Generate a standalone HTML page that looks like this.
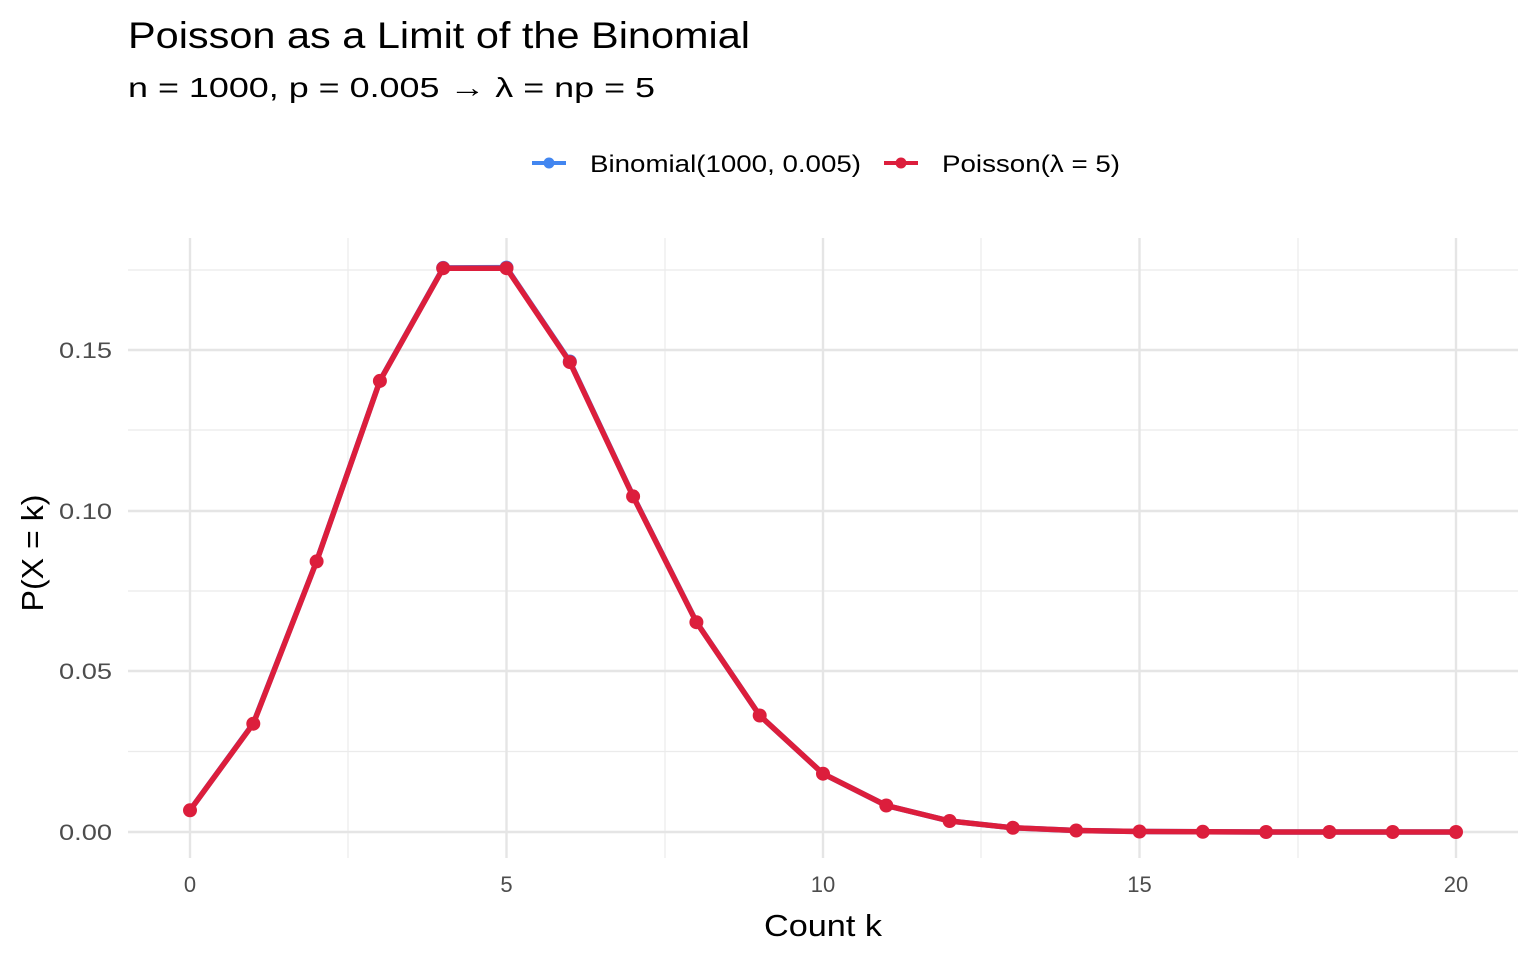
<!DOCTYPE html>
<html><head><meta charset="utf-8"><style>
body{margin:0;background:#fff;}
svg{display:block;font-family:"Liberation Sans",sans-serif;}
</style></head><body>
<svg width="1536" height="960" viewBox="0 0 1536 960" xmlns="http://www.w3.org/2000/svg">
<rect width="1536" height="960" fill="#fff"/>
<text x="128" y="48" font-size="37" fill="#000" textLength="622" lengthAdjust="spacingAndGlyphs">Poisson as a Limit of the Binomial</text>
<text x="128" y="97" font-size="28" fill="#000" textLength="527" lengthAdjust="spacingAndGlyphs">n = 1000, p = 0.005  →  λ = np = 5</text>
<!-- legend -->
<line x1="532" y1="163" x2="566" y2="163" stroke="#4286f0" stroke-width="4"/>
<circle cx="549" cy="163" r="5.5" fill="#4286f0"/>
<text x="590" y="172" font-size="24" fill="#000" textLength="271" lengthAdjust="spacingAndGlyphs">Binomial(1000, 0.005)</text>
<line x1="884" y1="163" x2="918" y2="163" stroke="#dc1e3c" stroke-width="4"/>
<circle cx="901" cy="163" r="5.5" fill="#dc1e3c"/>
<text x="942" y="172" font-size="24" fill="#000" textLength="178" lengthAdjust="spacingAndGlyphs">Poisson(λ = 5)</text>
<!-- grid -->
<g stroke="#ebebeb" stroke-width="1.2">
<line x1="128" x2="1518" y1="751.5" y2="751.5"/><line x1="128" x2="1518" y1="591" y2="591"/>
<line x1="128" x2="1518" y1="430" y2="430"/><line x1="128" x2="1518" y1="270" y2="270"/>
<line x1="348" x2="348" y1="238" y2="858"/><line x1="665" x2="665" y1="238" y2="858"/>
<line x1="981" x2="981" y1="238" y2="858"/><line x1="1298" x2="1298" y1="238" y2="858"/>
</g>
<g stroke="#e5e5e5" stroke-width="2.4">
<line x1="128" x2="1518" y1="832" y2="832"/><line x1="128" x2="1518" y1="671" y2="671"/>
<line x1="128" x2="1518" y1="511" y2="511"/><line x1="128" x2="1518" y1="350" y2="350"/>
<line x1="190" x2="190" y1="238" y2="858"/><line x1="506.5" x2="506.5" y1="238" y2="858"/>
<line x1="823" x2="823" y1="238" y2="858"/><line x1="1139.5" x2="1139.5" y1="238" y2="858"/>
<line x1="1456" x2="1456" y1="238" y2="858"/>
</g>
<g font-size="22" fill="#4d4d4d" text-anchor="end">
<text x="112" y="840" textLength="53" lengthAdjust="spacingAndGlyphs">0.00</text><text x="112" y="679" textLength="53" lengthAdjust="spacingAndGlyphs">0.05</text>
<text x="112" y="519" textLength="53" lengthAdjust="spacingAndGlyphs">0.10</text><text x="112" y="358" textLength="53" lengthAdjust="spacingAndGlyphs">0.15</text>
</g>
<g font-size="22" fill="#4d4d4d" text-anchor="middle">
<text x="190" y="892">0</text><text x="506.5" y="892">5</text><text x="823" y="892">10</text>
<text x="1139.5" y="892">15</text><text x="1456" y="892">20</text>
</g>
<text x="823" y="936" font-size="31" text-anchor="middle" fill="#000" textLength="118" lengthAdjust="spacingAndGlyphs">Count k</text>
<text transform="translate(43,553) rotate(-90)" font-size="31" text-anchor="middle" fill="#000" textLength="117" lengthAdjust="spacingAndGlyphs">P(X = k)</text>
<polyline fill="none" stroke="#4286f0" stroke-width="5.5" stroke-linejoin="round" points="190,810.3 253.3,723.4 316.6,561.2 379.9,380.7 443.2,267.9 506.5,267.6 569.8,361.5 633.1,496 696.4,622 759.7,715.5 823,773.7 886.3,805.5 949.6,821 1012.9,827.8 1076.2,830.5 1139.5,831.5 1202.8,831.8 1266.1,832 1329.4,832 1392.7,832 1456,832"/>
<g fill="#4286f0">
<circle cx="443.2" cy="267.9" r="7"/><circle cx="506.5" cy="267.6" r="7"/><circle cx="569.8" cy="361.5" r="7"/>
</g>
<polyline fill="none" stroke="#dc1e3c" stroke-width="5.5" stroke-linejoin="round" points="190,810.3 253.3,723.7 316.6,561.4 379.9,380.9 443.2,268.2 506.5,268.2 569.8,362.1 633.1,496.4 696.4,622.2 759.7,715.5 823,773.7 886.3,805.5 949.6,821 1012.9,827.8 1076.2,830.5 1139.5,831.5 1202.8,831.8 1266.1,832 1329.4,832 1392.7,832 1456,832"/>
<g fill="#dc1e3c">
<circle cx="190" cy="810.3" r="7"/><circle cx="253.3" cy="723.7" r="7"/><circle cx="316.6" cy="561.4" r="7"/>
<circle cx="379.9" cy="380.9" r="7"/><circle cx="443.2" cy="268.2" r="7"/><circle cx="506.5" cy="268.2" r="7"/>
<circle cx="569.8" cy="362.1" r="7"/><circle cx="633.1" cy="496.4" r="7"/><circle cx="696.4" cy="622.2" r="7"/>
<circle cx="759.7" cy="715.5" r="7"/><circle cx="823" cy="773.7" r="7"/><circle cx="886.3" cy="805.5" r="7"/>
<circle cx="949.6" cy="821" r="7"/><circle cx="1012.9" cy="827.8" r="7"/><circle cx="1076.2" cy="830.5" r="7"/>
<circle cx="1139.5" cy="831.5" r="7"/><circle cx="1202.8" cy="831.8" r="7"/><circle cx="1266.1" cy="832" r="7"/>
<circle cx="1329.4" cy="832" r="7"/><circle cx="1392.7" cy="832" r="7"/><circle cx="1456" cy="832" r="7"/>
</g>
</svg>
</body></html>
